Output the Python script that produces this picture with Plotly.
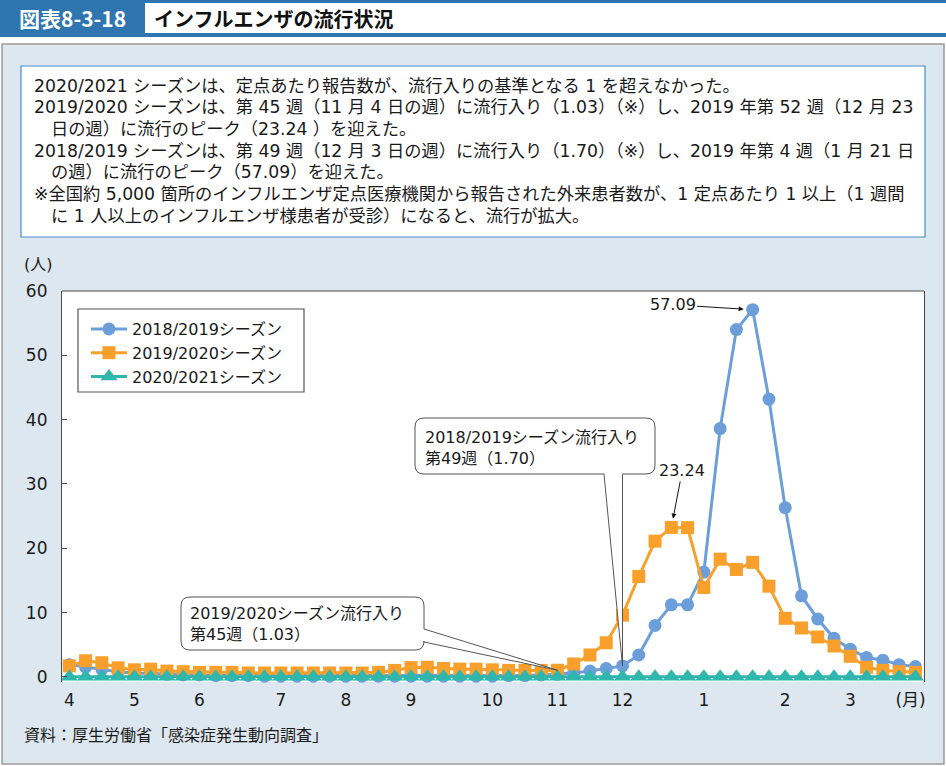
import plotly.graph_objects as go

# ---------------- data ----------------
week_index = list(range(53))
season_2018_2019 = [1.9, 1.5, 1.2, 0.8, 0.6, 0.5, 0.4, 0.3, 0.3, 0.2,
                    0.2, 0.2, 0.1, 0.1, 0.1, 0.1, 0.1, 0.1, 0.1, 0.1,
                    0.1, 0.1, 0.1, 0.1, 0.1, 0.1, 0.1, 0.2, 0.2, 0.3,
                    0.4, 0.6, 0.9, 1.3, 1.70, 3.4, 8.0, 11.2, 11.2, 16.3,
                    38.6, 54.0, 57.09, 43.2, 26.3, 12.6, 9.0, 6.0, 4.3, 3.0,
                    2.6, 1.9, 1.6]
season_2019_2020 = [1.7, 2.5, 2.2, 1.4, 1.1, 1.2, 0.9, 0.8, 0.7, 0.7,
                    0.7, 0.6, 0.6, 0.6, 0.6, 0.6, 0.6, 0.6, 0.6, 0.7,
                    1.0, 1.45, 1.5, 1.3, 1.2, 1.2, 1.1, 1.0, 1.0, 1.0,
                    1.03, 2.0, 3.4, 5.3, 9.6, 15.6, 21.1, 23.24, 23.2, 13.9,
                    18.3, 16.7, 17.8, 14.1, 9.1, 7.6, 6.2, 4.8, 3.2, 1.5,
                    1.0, 0.8, 0.7]
season_2020_2021 = [0.0, 0.0, 0.0, 0.0, 0.0, 0.0, 0.0, 0.0, 0.0, 0.0,
                    0.0, 0.0, 0.0, 0.0, 0.0, 0.0, 0.0, 0.0, 0.0, 0.0,
                    0.0, 0.0, 0.0, 0.0, 0.0, 0.0, 0.0, 0.0, 0.0, 0.0,
                    0.0, 0.0, 0.0, 0.0, 0.0, 0.0, 0.0, 0.0, 0.0, 0.0,
                    0.0, 0.0, 0.0, 0.0, 0.0, 0.0, 0.0, 0.0, 0.0, 0.0,
                    0.0, 0.0, 0.0]
series_names = ["2018/2019シーズン", "2019/2020シーズン", "2020/2021シーズン"]
month_tick_pos = [0, 4, 8, 13, 17, 21, 26, 30, 34, 39, 44, 48, 51.7]
month_tick_text = ["4", "5", "6", "7", "8", "9", "10", "11", "12", "1", "2", "3", "(月)"]
y_tick_vals = [0, 10, 20, 30, 40, 50, 60]

info_lines = [
    "2020/2021 シーズンは、定点あたり報告数が、流行入りの基準となる 1 を超えなかった。",
    "2019/2020 シーズンは、第 45 週（11 月 4 日の週）に流行入り（1.03）（※）し、2019 年第 52 週（12 月 23",
    "日の週）に流行のピーク（23.24 ）を迎えた。",
    "2018/2019 シーズンは、第 49 週（12 月 3 日の週）に流行入り（1.70）（※）し、2019 年第 4 週（1 月 21 日",
    "の週）に流行のピーク（57.09）を迎えた。",
    "※全国約 5,000 箇所のインフルエンザ定点医療機関から報告された外来患者数が、1 定点あたり 1 以上（1 週間",
    "に 1 人以上のインフルエンザ様患者が受診）になると、流行が拡大。",
]
info_indent = [False, False, True, False, True, False, True]
callout_2019_lines = ["2019/2020シーズン流行入り", "第45週（1.03）"]
callout_2018_lines = ["2018/2019シーズン流行入り", "第49週（1.70）"]

# ---------------- geometry ----------------
FW, FH = 946, 766
L, R, T, B = 62, 924, 291, 682
XR = [-0.45, 52.53]
YR = [-0.8, 60]
FONT = "DejaVu Sans, Noto Sans CJK JP, sans-serif"
JFONT = "Noto Sans CJK JP, sans-serif"

BLUE = "#6c9fd9"
ORANGE = "#f8a02b"
TEAL = "#2fb6ad"
HEAD = "#2f76b0"
PANEL = "#dde7ef"
TXT = "#1a1a1a"


def px(xp):
    return (xp - L) / (R - L)


def py(yp):
    return (B - yp) / (B - T)


def dx(xp):
    return XR[0] + (xp - L) / (R - L) * (XR[1] - XR[0])


def dy(yp):
    return YR[1] - (yp - T) / (B - T) * (YR[1] - YR[0])


def P(xp, yp):
    return f"{dx(xp):.4f},{dy(yp):.4f}"


fig = go.Figure()
styles = [
    (season_2018_2019, BLUE, "circle", 13),
    (season_2019_2020, ORANGE, "square", 13),
    (season_2020_2021, TEAL, "triangle-up", 15),
]
for name, (vals, col, sym, sz) in zip(series_names, styles):
    fig.add_trace(go.Scatter(
        x=week_index, y=vals, name=name, mode="lines+markers",
        line=dict(color=col, width=3),
        marker=dict(color=col, symbol=sym, size=sz),
        cliponaxis=False,
    ))

shapes = []
# header
shapes.append(dict(type="rect", xref="paper", yref="paper", x0=px(0), x1=px(FW), y0=py(37), y1=py(0),
                   fillcolor=HEAD, line=dict(width=0), layer="below"))
shapes.append(dict(type="rect", xref="paper", yref="paper", x0=px(145), x1=px(FW), y0=py(33), y1=py(3),
                   fillcolor="white", line=dict(width=0), layer="below"))
# panel
shapes.append(dict(type="rect", xref="paper", yref="paper", x0=px(2), x1=px(944), y0=py(764), y1=py(44),
                   fillcolor=PANEL, line=dict(color="#9a9a9a", width=1.5), layer="below"))
# plot area white
shapes.append(dict(type="rect", xref="paper", yref="paper", x0=0, x1=1, y0=0, y1=1,
                   fillcolor="white", line=dict(width=0), layer="below"))
# legend frame
shapes.append(dict(type="rect", xref="paper", yref="paper", x0=px(78), x1=px(304), y0=py(392), y1=py(309),
                   fillcolor="white", line=dict(color="#555555", width=1.2), layer="below"))
# top frame line
shapes.append(dict(type="line", xref="paper", yref="paper", x0=0, x1=1, y0=1, y1=1,
                   line=dict(color="#4a4a4a", width=1.2)))
# info box
shapes.append(dict(type="rect", xref="paper", yref="paper", x0=px(21), x1=px(925), y0=py(237), y1=py(66),
                   fillcolor="white", line=dict(color="#4a8cc6", width=1.2), layer="below"))


def callout_right(x0, y0, x1, y1, r, wy0, wy1, tipx, tipy):
    return (f"M{P(x0 + r, y0)} L{P(x1 - r, y0)} Q{P(x1, y0)} {P(x1, y0 + r)} "
            f"L{P(x1, wy0)} L{tipx},{tipy} L{P(x1, wy1)} "
            f"L{P(x1, y1 - r)} Q{P(x1, y1)} {P(x1 - r, y1)} L{P(x0 + r, y1)} "
            f"Q{P(x0, y1)} {P(x0, y1 - r)} L{P(x0, y0 + r)} Q{P(x0, y0)} {P(x0 + r, y0)} Z")


def callout_bottom(x0, y0, x1, y1, r, wx0, tipx, tipy):
    return (f"M{P(x0 + r, y0)} L{P(x1 - r, y0)} Q{P(x1, y0)} {P(x1, y0 + r)} "
            f"L{P(x1, y1 - r)} Q{P(x1, y1)} {P(x1 - r, y1)} "
            f"L{tipx},{dy(y1):.4f} L{tipx},{tipy} L{P(wx0, y1)} "
            f"L{P(x0 + r, y1)} Q{P(x0, y1)} {P(x0, y1 - r)} L{P(x0, y0 + r)} Q{P(x0, y0)} {P(x0 + r, y0)} Z")


entry_2019 = 30
entry_2018 = 34
shapes.append(dict(type="path", xref="x", yref="y",
                   path=callout_right(181, 597, 424, 650, 9, 629, 642,
                                      week_index[entry_2019], season_2019_2020[entry_2019]),
                   fillcolor="white", line=dict(color="#555555", width=1), layer="above"))
shapes.append(dict(type="path", xref="x", yref="y",
                   path=callout_bottom(415, 418, 655, 474, 9, 604,
                                       week_index[entry_2018], season_2018_2019[entry_2018]),
                   fillcolor="white", line=dict(color="#555555", width=1), layer="above"))

ann = []
ann.append(dict(xref="paper", yref="paper", x=px(72), y=py(18), text="<b>図表8-3-18</b>", showarrow=False,
                font=dict(family=JFONT, size=21, color="white"), xanchor="center", yanchor="middle"))
ann.append(dict(xref="paper", yref="paper", x=px(152), y=py(18), text="<b>インフルエンザの流行状況</b>",
                showarrow=False, font=dict(family=JFONT, size=20, color="#111111"),
                xanchor="left", yanchor="middle"))
for i, (line, ind) in enumerate(zip(info_lines, info_indent)):
    ann.append(dict(xref="paper", yref="paper", x=px(50 if ind else 33), y=py(85 + 21.7 * i), text=line,
                    showarrow=False, font=dict(family=FONT, size=17.25, color=TXT),
                    xanchor="left", yanchor="middle", height=21, borderpad=0))
ann.append(dict(xref="paper", yref="paper", x=px(38), y=py(264), text="(人)", showarrow=False,
                font=dict(family=FONT, size=16, color=TXT), xanchor="center", yanchor="middle"))
ann.append(dict(xref="paper", yref="paper", x=px(22), y=py(734), text="資料：厚生労働省「感染症発生動向調査」",
                showarrow=False, font=dict(family=JFONT, size=16, color=TXT),
                xanchor="left", yanchor="middle"))
# callout texts
for j, line in enumerate(callout_2019_lines):
    ann.append(dict(xref="paper", yref="paper", x=px(189), y=py(613 + 21 * j), text=line, showarrow=False,
                    font=dict(family=FONT, size=16, color=TXT), xanchor="left", yanchor="middle",
                    height=20, borderpad=0))
for j, line in enumerate(callout_2018_lines):
    ann.append(dict(xref="paper", yref="paper", x=px(424), y=py(437 + 20.5 * j), text=line, showarrow=False,
                    font=dict(family=FONT, size=16, color=TXT), xanchor="left", yanchor="middle",
                    height=20, borderpad=0))
# peak labels
pk18 = season_2018_2019.index(max(season_2018_2019))
pk19 = season_2019_2020.index(max(season_2019_2020))
ann.append(dict(xref="x", yref="y", x=week_index[pk18], y=season_2018_2019[pk18],
                text=f"{season_2018_2019[pk18]:.2f}", showarrow=True, ax=-80, ay=-5,
                arrowhead=2, arrowsize=1, arrowwidth=1, arrowcolor="#111111", standoff=9,
                font=dict(family=FONT, size=16, color=TXT)))
ann.append(dict(xref="x", yref="y", x=week_index[pk19], y=season_2019_2020[pk19],
                text=f"{season_2019_2020[pk19]:.2f}", showarrow=True, ax=11, ay=-57,
                arrowhead=2, arrowsize=1, arrowwidth=1, arrowcolor="#111111", standoff=9,
                font=dict(family=FONT, size=16, color=TXT)))

fig.update_layout(
    width=FW, height=FH, autosize=False,
    margin=dict(l=L, r=FW - R, t=T, b=FH - B, pad=0),
    paper_bgcolor="white", plot_bgcolor="rgba(0,0,0,0)",
    font=dict(family=FONT, size=16, color=TXT),
    shapes=shapes, annotations=ann,
    showlegend=True,
    legend=dict(x=px(86), y=py(312), xanchor="left", yanchor="top",
                bgcolor="rgba(0,0,0,0)", borderwidth=0,
                font=dict(family=FONT, size=16, color=TXT), tracegroupgap=0,
                itemwidth=36),
    xaxis=dict(range=XR, tickvals=month_tick_pos, ticktext=month_tick_text, showgrid=False,
               zeroline=False, showline=False, ticks="", tickfont=dict(family=FONT, size=17, color=TXT),
               ticklabelstandoff=6),
    yaxis=dict(range=YR, tickvals=y_tick_vals, showgrid=False, zeroline=False, showline=True,
               mirror=True, linecolor="#4a4a4a", linewidth=1.2, ticks="inside", ticklen=5,
               tickcolor="#4a4a4a", tickfont=dict(family=FONT, size=17, color=TXT),
               ticklabelstandoff=10),
)

fig.write_html("out.html")
